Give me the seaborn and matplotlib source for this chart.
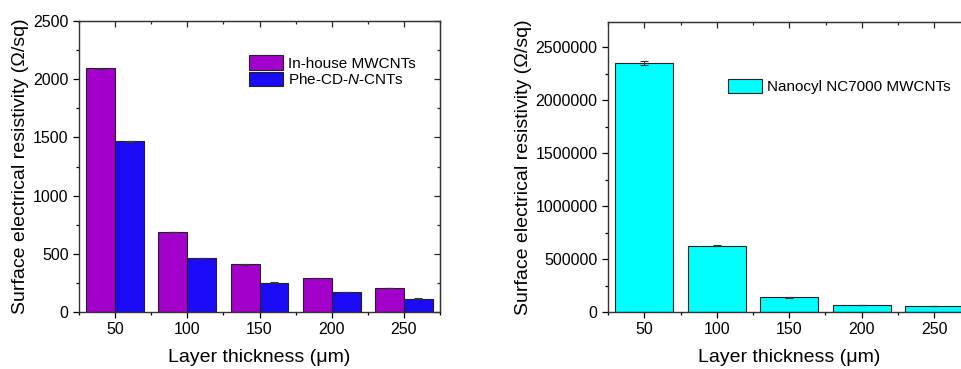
import numpy as np
import pandas as pd
import matplotlib
matplotlib.use("Agg")
import matplotlib.pyplot as plt
from matplotlib.ticker import AutoMinorLocator, MultipleLocator
import seaborn as sns

# data
thickness = [50, 100, 150, 200, 250]
inhouse = [2092, 687, 411, 291, 206]
inhouse_err = [5, 4, 3, 3, 3]
phe = [1466, 463, 251, 171, 114]
phe_err = [4, 3, 5, 3, 3]
nanocyl = [2349000, 626000, 138000, 66000, 57000]
nanocyl_err = [18000, 5000, 3000, 2000, 2000]

series_names = ["In-house MWCNTs", "Phe-CD-$\\it{N}$-CNTs"]
colors = ["#A300CC", "#1A0AF5"]
cyan = "#00FFFF"
edge = "#222222"

sns.set_style("ticks")
plt.rcParams["font.family"] = ["Liberation Sans", "DejaVu Sans"]
plt.rcParams["mathtext.fontset"] = "custom"
plt.rcParams["mathtext.it"] = "Liberation Sans:italic"
plt.rcParams["mathtext.rm"] = "Liberation Sans"
plt.rcParams["text.color"] = "black"
plt.rcParams["axes.labelcolor"] = "black"

df_left = pd.DataFrame({
    "thickness": thickness * 2,
    "value": inhouse + phe,
    "sample": [series_names[0]] * 5 + [series_names[1]] * 5,
})
df_right = pd.DataFrame({"thickness": thickness, "value": nanocyl})

fig = plt.figure(figsize=(9.61, 3.69), dpi=100)
W, H = 961, 369
ax1 = fig.add_axes([79 / W, (H - 312) / H, 361 / W, 291 / H])
ax2 = fig.add_axes([608 / W, (H - 312) / H, 362.5 / W, 290 / H])


def style_axes(ax):
    for s in ax.spines.values():
        s.set_visible(True)
        s.set_linewidth(1.0)
        s.set_color("#333333")
    ax.tick_params(which="both", direction="out", top=False, right=False,
                   labelsize=11.5, colors="black", width=0.9)
    ax.tick_params(which="major", length=4)
    ax.tick_params(which="minor", length=2.5)
    ax.xaxis.set_major_locator(MultipleLocator(50))
    ax.xaxis.set_minor_locator(AutoMinorLocator(2))
    ax.yaxis.set_minor_locator(AutoMinorLocator(2))
    # mirrored ticks pointing inward on top and right
    sec_x = ax.secondary_xaxis("top")
    sec_x.xaxis.set_major_locator(MultipleLocator(50))
    sec_x.xaxis.set_minor_locator(AutoMinorLocator(2))
    sec_x.tick_params(which="both", direction="in", labeltop=False, width=0.9)
    sec_x.tick_params(which="major", length=4)
    sec_x.tick_params(which="minor", length=2.5)
    sec_x.spines["top"].set_color("#333333")
    sec_y = ax.secondary_yaxis("right")
    sec_y.yaxis.set_major_locator(ax.yaxis.get_major_locator())
    sec_y.yaxis.set_minor_locator(AutoMinorLocator(2))
    sec_y.tick_params(which="both", direction="in", labelright=False, width=0.9)
    sec_y.tick_params(which="major", length=4)
    sec_y.tick_params(which="minor", length=2.5)
    sec_y.spines["right"].set_color("#333333")


# left panel
sns.barplot(data=df_left, x="thickness", y="value", hue="sample", native_scale=True,
            palette=colors, saturation=1, errorbar=None, edgecolor=edge,
            linewidth=0.8, width=0.8, ax=ax1)
for cont, vals, errs in zip(ax1.containers, [inhouse, phe], [inhouse_err, phe_err]):
    xs = [b.get_x() + b.get_width() / 2 for b in cont]
    ax1.errorbar(xs, vals, yerr=errs, fmt="none", ecolor="#333333",
                 elinewidth=0.8, capsize=3, capthick=0.8)
ax1.set_xlim(25, 275)
ax1.set_ylim(0, 2500)
ax1.yaxis.set_major_locator(MultipleLocator(500))
style_axes(ax1)
ax1.set_xlabel("Layer thickness (\u03bcm)", fontsize=14)
ax1.set_ylabel("Surface electrical resistivity (\u03a9/sq)", fontsize=14)
ax1.xaxis.set_label_coords(0.5, -0.128)
ax1.yaxis.set_label_coords(-0.139, 0.5)
h, l = ax1.get_legend_handles_labels()
ax1.legend(h, l, loc="upper left", bbox_to_anchor=(0.471, 0.883), frameon=False,
           fontsize=11, handlelength=2.2, handleheight=1.1, labelspacing=0.08,
           borderpad=0, borderaxespad=0, handletextpad=0.35)

# right panel
sns.barplot(data=df_right, x="thickness", y="value", native_scale=True,
            color=cyan, saturation=1, errorbar=None, edgecolor=edge, linewidth=0.8,
            width=0.8, ax=ax2, label="Nanocyl NC7000 MWCNTs")
cont = ax2.containers[0]
xs = [b.get_x() + b.get_width() / 2 for b in cont]
ax2.errorbar(xs, nanocyl, yerr=nanocyl_err, fmt="none", ecolor="#333333",
             elinewidth=0.8, capsize=3, capthick=0.8)
ax2.set_xlim(25, 275)
ax2.set_ylim(0, 2740000)
ax2.yaxis.set_major_locator(MultipleLocator(500000))
ax2.ticklabel_format(axis="y", style="plain")
style_axes(ax2)
ax2.set_xlabel("Layer thickness (\u03bcm)", fontsize=14)
ax2.set_ylabel("Surface electrical resistivity (\u03a9/sq)", fontsize=14)
ax2.xaxis.set_label_coords(0.5, -0.128)
ax2.yaxis.set_label_coords(-0.21, 0.5)
ax2.legend(loc="upper left", bbox_to_anchor=(0.331, 0.803), frameon=False,
           fontsize=11, handlelength=2.2, handleheight=1.0,
           borderpad=0, borderaxespad=0, handletextpad=0.35)

fig.savefig("out.png", dpi=100)
